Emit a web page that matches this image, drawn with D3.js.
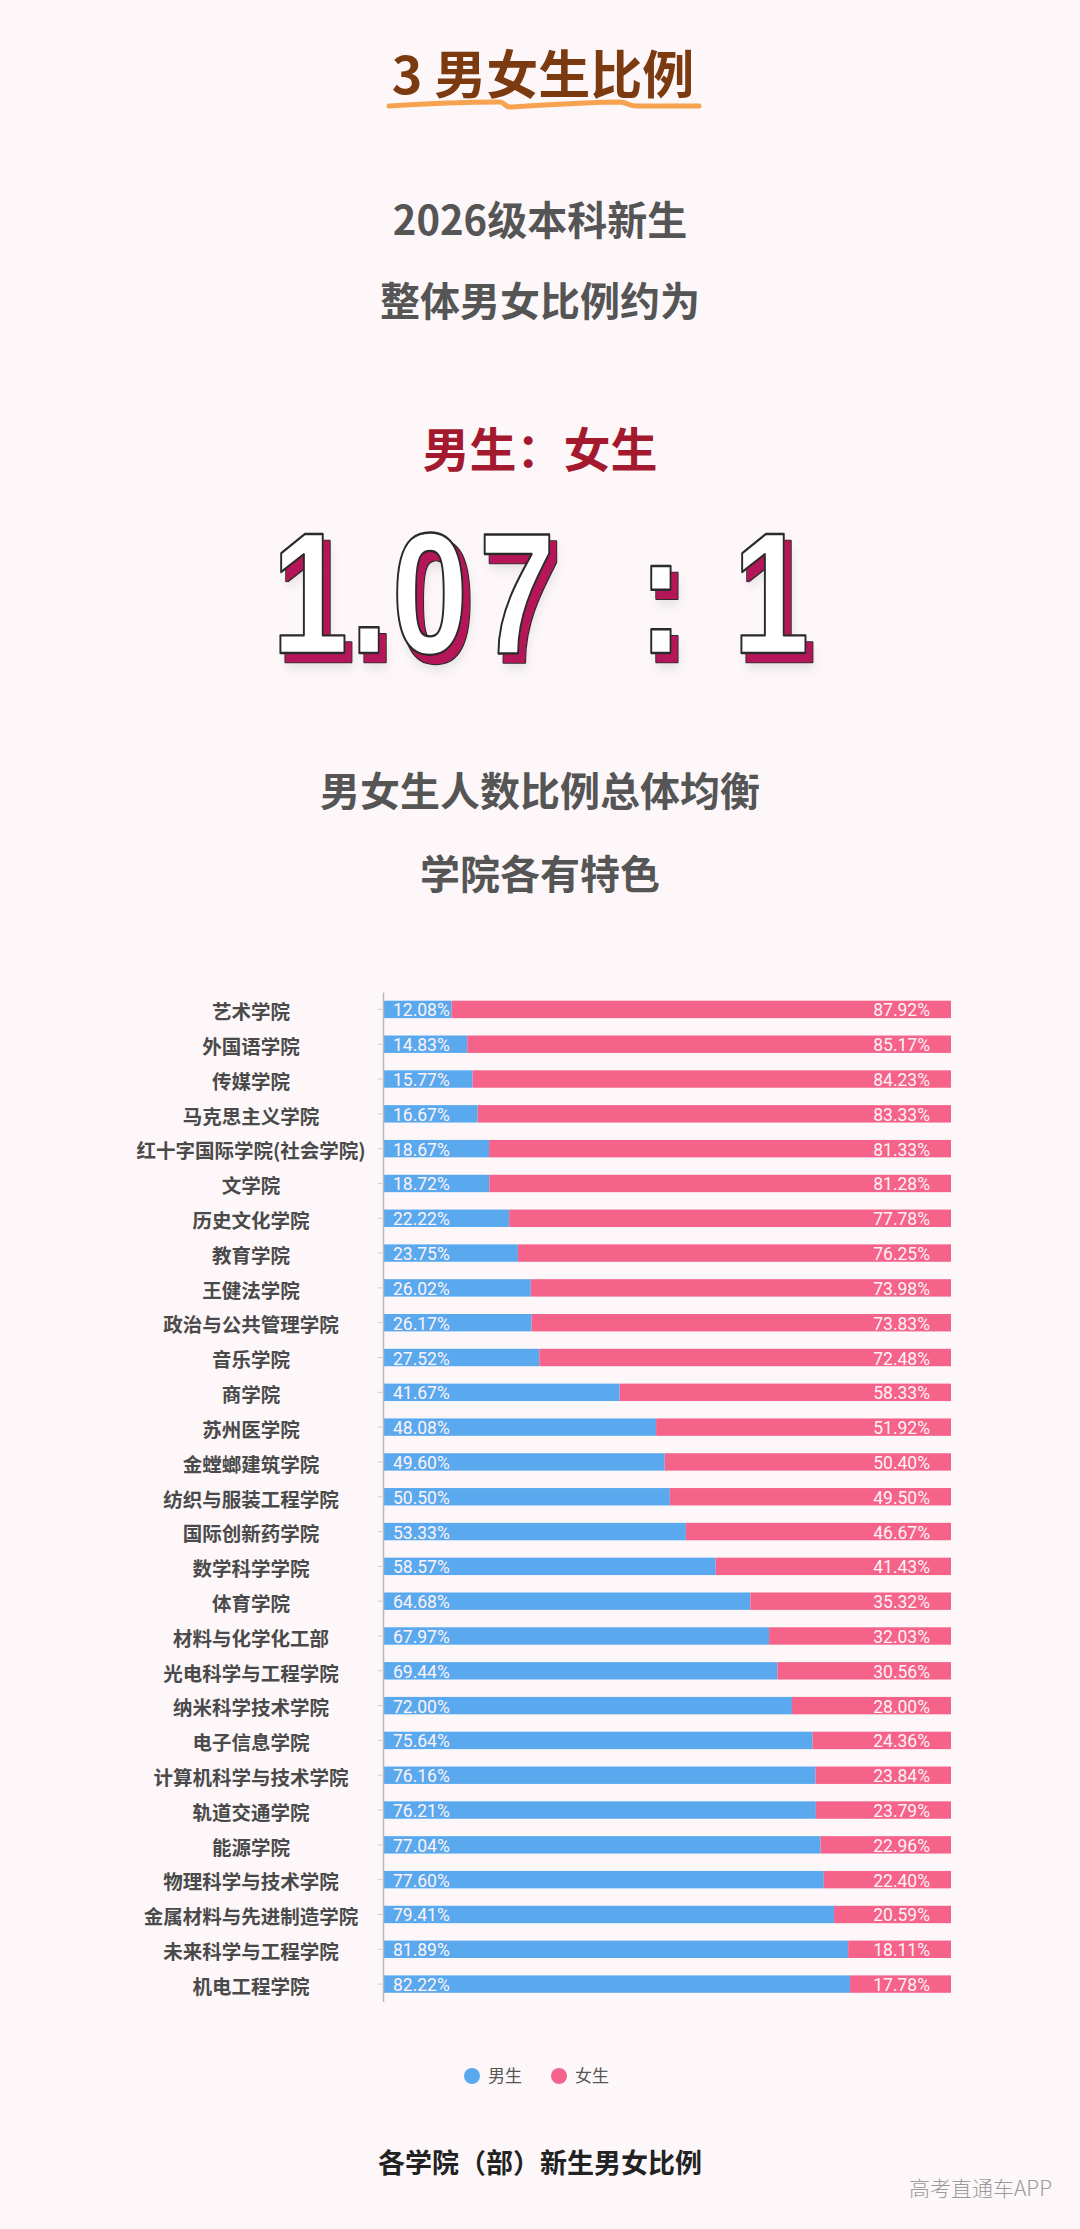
<!DOCTYPE html>
<html><head><meta charset="utf-8">
<script src="https://cdn.jsdelivr.net/npm/d3@7"></script>
<style>
html,body{margin:0;padding:0;background:#fdf7f9;}
svg{display:block;}
</style></head>
<body>
<svg id="c" width="1080" height="2229"></svg>
<script>
const categories = ["艺术学院","外国语学院","传媒学院","马克思主义学院","红十字国际学院(社会学院)","文学院","历史文化学院","教育学院","王健法学院","政治与公共管理学院","音乐学院","商学院","苏州医学院","金螳螂建筑学院","纺织与服装工程学院","国际创新药学院","数学科学学院","体育学院","材料与化学化工部","光电科学与工程学院","纳米科学技术学院","电子信息学院","计算机科学与技术学院","轨道交通学院","能源学院","物理科学与技术学院","金属材料与先进制造学院","未来科学与工程学院","机电工程学院"];
const maleValues = [12.08,14.83,15.77,16.67,18.67,18.72,22.22,23.75,26.02,26.17,27.52,41.67,48.08,49.60,50.50,53.33,58.57,64.68,67.97,69.44,72.00,75.64,76.16,76.21,77.04,77.60,79.41,81.89,82.22];
const femaleValues = [87.92,85.17,84.23,83.33,81.33,81.28,77.78,76.25,73.98,73.83,72.48,58.33,51.92,50.40,49.50,46.67,41.43,35.32,32.03,30.56,28.00,24.36,23.84,23.79,22.96,22.40,20.59,18.11,17.78];
const seriesNames = ["男生","女生"];
const seriesColors = ["#5aa9ef","#f5628a"];

const svg = d3.select("#c");
const W = 1080;
const CJK = "'Noto Sans CJK SC','Noto Sans',sans-serif";

// Title
svg.append("text").attr("x",W/2+3).attr("y",94).attr("text-anchor","middle")
  .attr("font-family",CJK).attr("font-weight",700).attr("font-size",52)
  .attr("fill","#7b3a10").text("3 男女生比例");
svg.append("path")
  .attr("d","M389,106 C420,104 470,102 500,102 C505,102 504,108 512,107 C560,104 600,102 620,102 C630,103 628,107 640,106 L699,106")
  .attr("fill","none").attr("stroke","#f7a24e").attr("stroke-width",5).attr("stroke-linecap","round");

// Headline texts
const head = [
  {t:"2026级本科新生", y:235, s:40, c:"#555"},
  {t:"整体男女比例约为", y:316, s:40, c:"#555"},
  {t:"男生：女生", y:467, s:47, c:"#a3192d"},
  {t:"男女生人数比例总体均衡", y:806, s:40, c:"#555"},
  {t:"学院各有特色", y:889, s:40, c:"#555"}
];
svg.selectAll("text.head").data(head).join("text").attr("class","head")
  .attr("x",W/2).attr("y",d=>d.y).attr("text-anchor","middle")
  .attr("font-family",CJK).attr("font-weight",700).attr("font-size",d=>d.s)
  .attr("fill",d=>d.c).text(d=>d.t);

// Big ratio with 3D shadow via filter
const defs = svg.append("defs");
const f = defs.append("filter").attr("id","ds").attr("x","-10%").attr("y","-10%").attr("width","130%").attr("height","140%");
f.append("feGaussianBlur").attr("in","SourceAlpha").attr("stdDeviation",6).attr("result","bl");
f.append("feOffset").attr("in","bl").attr("dx",9).attr("dy",14).attr("result","blo");
f.append("feFlood").attr("flood-color","#888").attr("flood-opacity",0.22).attr("result","gc");
f.append("feComposite").attr("in","gc").attr("in2","blo").attr("operator","in").attr("result","soft");
f.append("feMorphology").attr("in","SourceAlpha").attr("operator","dilate").attr("radius",1.4).attr("result","dil");
f.append("feOffset").attr("in","dil").attr("dx",7).attr("dy",8).attr("result","dilo");
f.append("feFlood").attr("flood-color","#2a2a2a").attr("result","dk");
f.append("feComposite").attr("in","dk").attr("in2","dilo").attr("operator","in").attr("result","outl");
f.append("feOffset").attr("in","SourceAlpha").attr("dx",7).attr("dy",8).attr("result","so");
f.append("feFlood").attr("flood-color","#b5175a").attr("result","cr");
f.append("feComposite").attr("in","cr").attr("in2","so").attr("operator","in").attr("result","crim");
const m = f.append("feMerge");
["soft","outl","crim","SourceGraphic"].forEach(n=>m.append("feMergeNode").attr("in",n));

const glyphX = [310,369,430,517,661,771];
const sx = 0.8;
svg.append("g").attr("transform",`scale(${sx},1)`)
  .append("text")
  .attr("x",glyphX.map(v=>(v/sx).toFixed(1)).join(" ")).attr("y",653).attr("text-anchor","middle")
  .attr("font-family","'Liberation Sans','Arial',sans-serif").attr("font-weight",700).attr("font-size",172)
  .attr("fill","#ffffff").attr("stroke","#2a2a2a").attr("stroke-width",2.4).attr("stroke-linejoin","round")
  .attr("filter","url(#ds)")
  .text("1.07:1");

// Chart
const x0 = 383, x1 = 951;
const x = d3.scaleLinear().domain([0,100]).range([x0,x1]);
const y = d3.scaleBand().domain(categories).range([992,2001.5]).paddingInner(0.5).paddingOuter(0.25);

const rows = categories.map((c,i)=>({c, m:maleValues[i], f:femaleValues[i]}));

const gBars = svg.append("g");
gBars.selectAll("rect.m").data(rows).join("rect").attr("class","m")
  .attr("x",x(0)).attr("y",d=>y(d.c)).attr("width",d=>x(d.m)-x(0)).attr("height",y.bandwidth())
  .attr("fill",seriesColors[0]);
gBars.selectAll("rect.f").data(rows).join("rect").attr("class","f")
  .attr("x",d=>x(d.m)).attr("y",d=>y(d.c)).attr("width",d=>x(d.m+d.f)-x(d.m)).attr("height",y.bandwidth())
  .attr("fill",seriesColors[1]);

gBars.selectAll("text.ml").data(rows).join("text").attr("class","ml")
  .attr("x",x(0)+10).attr("y",d=>y(d.c)+y.bandwidth()/2+7)
  .attr("font-family","Roboto,sans-serif").attr("font-size",17.5).attr("fill","#fdf3f6")
  .text(d=>d.m.toFixed(2)+"%");
gBars.selectAll("text.fl").data(rows).join("text").attr("class","fl")
  .attr("x",x(100)-21).attr("y",d=>y(d.c)+y.bandwidth()/2+7).attr("text-anchor","end")
  .attr("font-family","Roboto,sans-serif").attr("font-size",17.5).attr("fill","#fdf3f6")
  .text(d=>d.f.toFixed(2)+"%");

// Axis
const ax = svg.append("g").attr("transform",`translate(${x0},0)`)
  .call(d3.axisLeft(y).tickSize(5).tickSizeOuter(0));
ax.select(".domain").attr("stroke","#b8b8b8").attr("stroke-width",1.5);
ax.selectAll(".tick line").attr("stroke","#cfcfcf");
ax.selectAll(".tick text").attr("x",251-x0).attr("dy","0.5em").attr("text-anchor","middle")
  .attr("font-family",CJK).attr("font-weight",700).attr("font-size",19.5).attr("fill","#4a4a4a");

// Legend
const legend = svg.append("g");
const legItems = seriesNames.map((n,i)=>({n, c:seriesColors[i], cx:[472,559][i]}));
legend.selectAll("circle").data(legItems).join("circle")
  .attr("cx",d=>d.cx).attr("cy",2076).attr("r",8).attr("fill",d=>d.c);
legend.selectAll("text").data(legItems).join("text")
  .attr("x",d=>d.cx+16).attr("y",2082).attr("font-family",CJK).attr("font-size",17).attr("fill","#555")
  .text(d=>d.n);

// Caption
svg.append("text").attr("x",W/2).attr("y",2173).attr("text-anchor","middle")
  .attr("font-family",CJK).attr("font-weight",700).attr("font-size",27).attr("fill","#222")
  .text("各学院（部）新生男女比例");
svg.append("text").attr("x",1052).attr("y",2196).attr("text-anchor","end")
  .attr("font-family",CJK).attr("font-weight",300).attr("font-size",21).attr("fill","#9a9a9a")
  .text("高考直通车APP");
</script>
</body></html>
